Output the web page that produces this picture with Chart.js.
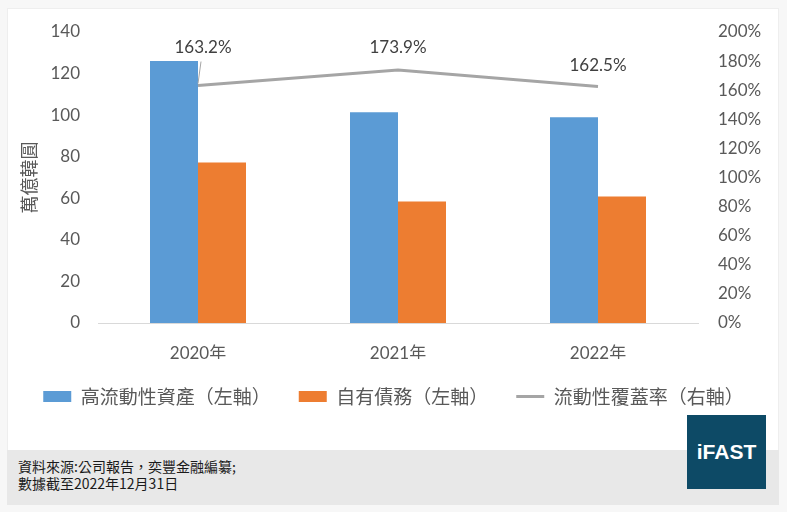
<!DOCTYPE html>
<html>
<head>
<meta charset="utf-8">
<script src="https://cdn.jsdelivr.net/npm/chart.js@4"></script>
<style>
  html, body { margin: 0; padding: 0; background: #f7f7f7; }
  #wrap { position: relative; width: 787px; height: 512px; overflow: hidden; }
  #card { position: absolute; left: 7px; top: 8px; width: 772px; height: 497px; background: #fff; border: 1px solid #eeeeee; box-sizing: border-box; }
  #band { position: absolute; left: 7px; top: 450px; width: 772px; height: 55px; background: #e8e8e8; }
  #src { position: absolute; left: 18px; top: 458px; font: 14px/17px "Noto Sans CJK TC", sans-serif; color: #1a1a1a; }
  #logo { position: absolute; left: 687px; top: 415px; width: 79px; height: 74px; background: #0d4a66; color: #fff;
          font: bold 21px/74px "Liberation Sans", Arial, sans-serif; text-align: center; }
  #chart { position: absolute; left: 0; top: 0; }
</style>
</head>
<body>
<div id="wrap">
  <div id="card"></div>
  <div id="band"></div>
  <div id="src">資料來源:公司報告，奕豐金融編纂;<br>數據截至2022年12月31日</div>
  <div id="logo">iFAST</div>
  <canvas id="chart" width="787" height="450"></canvas>
</div>
<script>
// ==========================================
// Data
// ==========================================
const years = ['2020年', '2021年', '2022年'];
const hqla = [126.0, 101.4, 99.0];          // 高流動性資產 (萬億韓圓)
const ownDebt = [77.2, 58.4, 60.8];         // 自有債務 (萬億韓圓)
const coverage = [163.2, 173.9, 162.5];     // 流動性覆蓋率 (%)
const seriesNames = ['高流動性資產（左軸）', '自有債務（左軸）', '流動性覆蓋率（右軸）'];

const BLUE = '#5b9bd5';
const ORANGE = '#ed7d31';
const GREY = '#a5a5a5';
const TEXT = '#595959';
const NUM_FONT = 'Lato, "Noto Sans CJK TC", sans-serif';

// ==========================================
// Line value labels (2020 label pulled aside with a leader line)
// ==========================================
const labelOffsets = [[5, -38], [0, -22], [0, -21]];

const valueLabels = {
  id: 'valueLabels',
  afterDatasetsDraw(chart) {
    const meta = chart.getDatasetMeta(2);
    const ctx = chart.ctx;
    ctx.save();
    ctx.font = '17px ' + NUM_FONT;
    ctx.fillStyle = '#404040';
    ctx.textAlign = 'center';
    ctx.textBaseline = 'middle';
    meta.data.forEach((pt, i) => {
      const [dx, dy] = labelOffsets[i];
      const x = pt.x + dx, y = pt.y + dy;
      if (i === 0) {
        ctx.strokeStyle = GREY;
        ctx.lineWidth = 1;
        ctx.beginPath();
        ctx.moveTo(pt.x, pt.y - 2);
        ctx.lineTo(pt.x + 3, y + 14);
        ctx.stroke();
      }
      ctx.fillText(coverage[i].toFixed(1) + '%', x, y);
    });
    ctx.restore();
  }
};

// ==========================================
// Chart
// ==========================================
new Chart(document.getElementById('chart'), {
  data: {
    labels: years,
    datasets: [
      { type: 'bar', label: seriesNames[0], data: hqla, backgroundColor: BLUE, yAxisID: 'y', order: 1,
        categoryPercentage: 0.48, barPercentage: 1 },
      { type: 'bar', label: seriesNames[1], data: ownDebt, backgroundColor: ORANGE, yAxisID: 'y', order: 1,
        categoryPercentage: 0.48, barPercentage: 1 },
      { type: 'line', label: seriesNames[2], data: coverage, borderColor: GREY, borderWidth: 3,
        pointRadius: 0, tension: 0, yAxisID: 'y1', order: 0 }
    ]
  },
  options: {
    responsive: false,
    animation: false,
    layout: { padding: { top: 32, bottom: 34, left: 0, right: 0 } },
    plugins: {
      tooltip: { enabled: false },
      legend: {
        position: 'bottom',
        labels: {
          usePointStyle: true,
          pointStyleWidth: 28,
          boxHeight: 11,
          padding: 28,
          color: TEXT,
          font: { family: '"Noto Sans CJK TC", sans-serif', size: 19 },
          generateLabels: (chart) => chart.data.datasets.map((ds, i) => ({
            text: ds.label,
            fillStyle: i === 2 ? GREY : ds.backgroundColor,
            strokeStyle: i === 2 ? GREY : ds.backgroundColor,
            lineWidth: i === 2 ? 3 : 0,
            pointStyle: i === 2 ? 'line' : 'rect',
            fontColor: TEXT,
            datasetIndex: i
          }))
        }
      }
    },
    scales: {
      x: {
        grid: { display: false },
        border: { display: true, color: '#d9d9d9', width: 1 },
        ticks: { color: TEXT, padding: 12, font: { family: NUM_FONT, size: 17 } },
        afterFit: (s) => { s.height = 36; }
      },
      y: {
        position: 'left',
        min: 0, max: 140,
        grid: { display: false, drawTicks: false },
        border: { display: false },
        ticks: { stepSize: 20, color: TEXT, padding: 18, font: { family: NUM_FONT, size: 17 } },
        title: { display: true, text: '萬億韓圓', color: TEXT, padding: { top: 18, bottom: 0 },
                 font: { family: '"Noto Sans CJK TC", sans-serif', size: 18 } },
        afterFit: (s) => { s.width = 98; }
      },
      y1: {
        position: 'right',
        min: 0, max: 200,
        grid: { display: false, drawTicks: false },
        border: { display: false },
        ticks: { stepSize: 20, color: TEXT, padding: 20, font: { family: NUM_FONT, size: 17 },
                 callback: (v) => v + '%' },
        afterFit: (s) => { s.width = 89; }
      }
    }
  },
  plugins: [valueLabels]
});
</script>
</body>
</html>
